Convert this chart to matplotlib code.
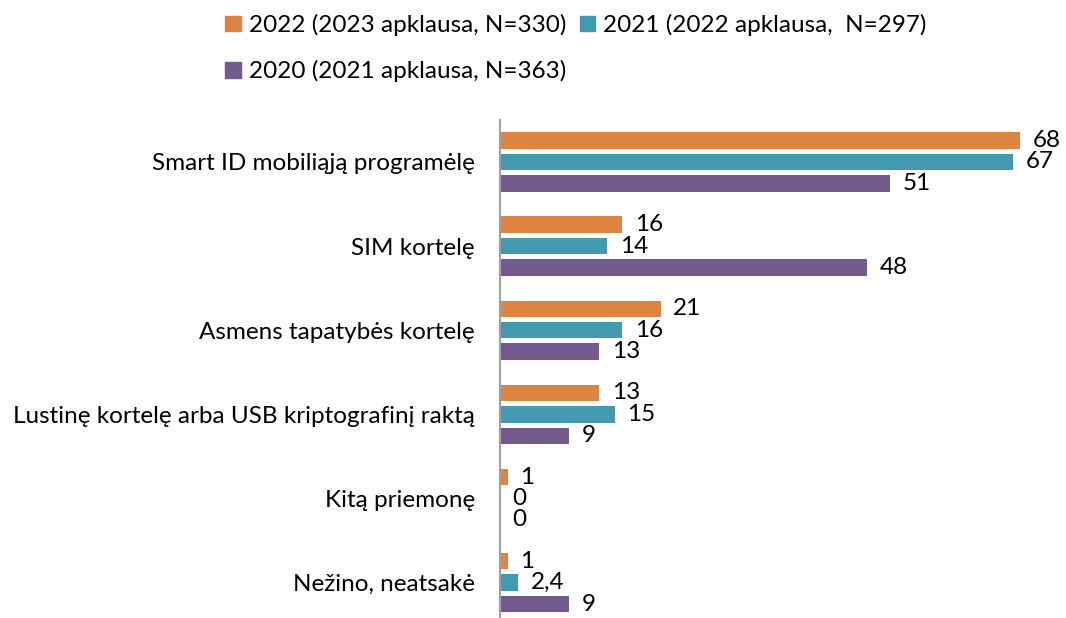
import numpy as np
import matplotlib.pyplot as plt
from matplotlib.patches import Patch

plt.rcParams['font.family'] = ['Lato', 'DejaVu Sans']

categories = [
    'Smart ID mobiliąją programėlę',
    'SIM kortelę',
    'Asmens tapatybės kortelę',
    'Lustinę kortelę arba USB kriptografinį raktą',
    'Kitą priemonę',
    'Nežino, neatsakė',
]
series_names = [
    '2022 (2023 apklausa, N=330)',
    '2021 (2022 apklausa,  N=297)',
    '2020 (2021 apklausa, N=363)',
]
values_2022 = [68, 16, 21, 13, 1, 1]
values_2021 = [67, 14, 16, 15, 0, 2.4]
values_2020 = [51, 48, 13, 9, 0, 9]
colors = ['#DD8440', '#4299B0', '#735A8F']

fs = 17.5

fig = plt.figure(figsize=(10.66, 6.18), dpi=100)
ax = fig.add_axes([0.469, 0.0, 0.517, 0.806])

y = np.arange(len(categories))
step = 0.255
height = 0.195
for i, (vals, col, name) in enumerate(zip([values_2022, values_2021, values_2020], colors, series_names)):
    b = ax.barh(y + (i - 1) * step, vals, height=height, color=col, label=name)
    labels = [('%g' % v).replace('.', ',') for v in vals]
    ax.bar_label(b, labels=labels, padding=9, fontsize=fs, color='black')

ax.set_xlim(0, 72)
ax.set_ylim(5.42, -0.5)
ax.set_yticks(y)
ax.set_yticklabels(categories, fontsize=fs)
ax.tick_params(axis='y', length=0, pad=18)
ax.set_xticks([])
for s in ['top', 'right', 'bottom']:
    ax.spines[s].set_visible(False)
ax.spines['left'].set_color('#A0A0A0')
ax.spines['left'].set_linewidth(1.5)

handles = [Patch(color=c) for c in colors]
order = [0, 2, 1]
fig.legend([handles[k] for k in order], [series_names[k] for k in order],
           ncol=2, loc='upper left', bbox_to_anchor=(0.191, 1.013),
           frameon=False, fontsize=fs, handlelength=0.62, handleheight=0.62,
           handletextpad=0.33, columnspacing=0.58, labelspacing=1.0)

fig.savefig('out.png', dpi=100)
